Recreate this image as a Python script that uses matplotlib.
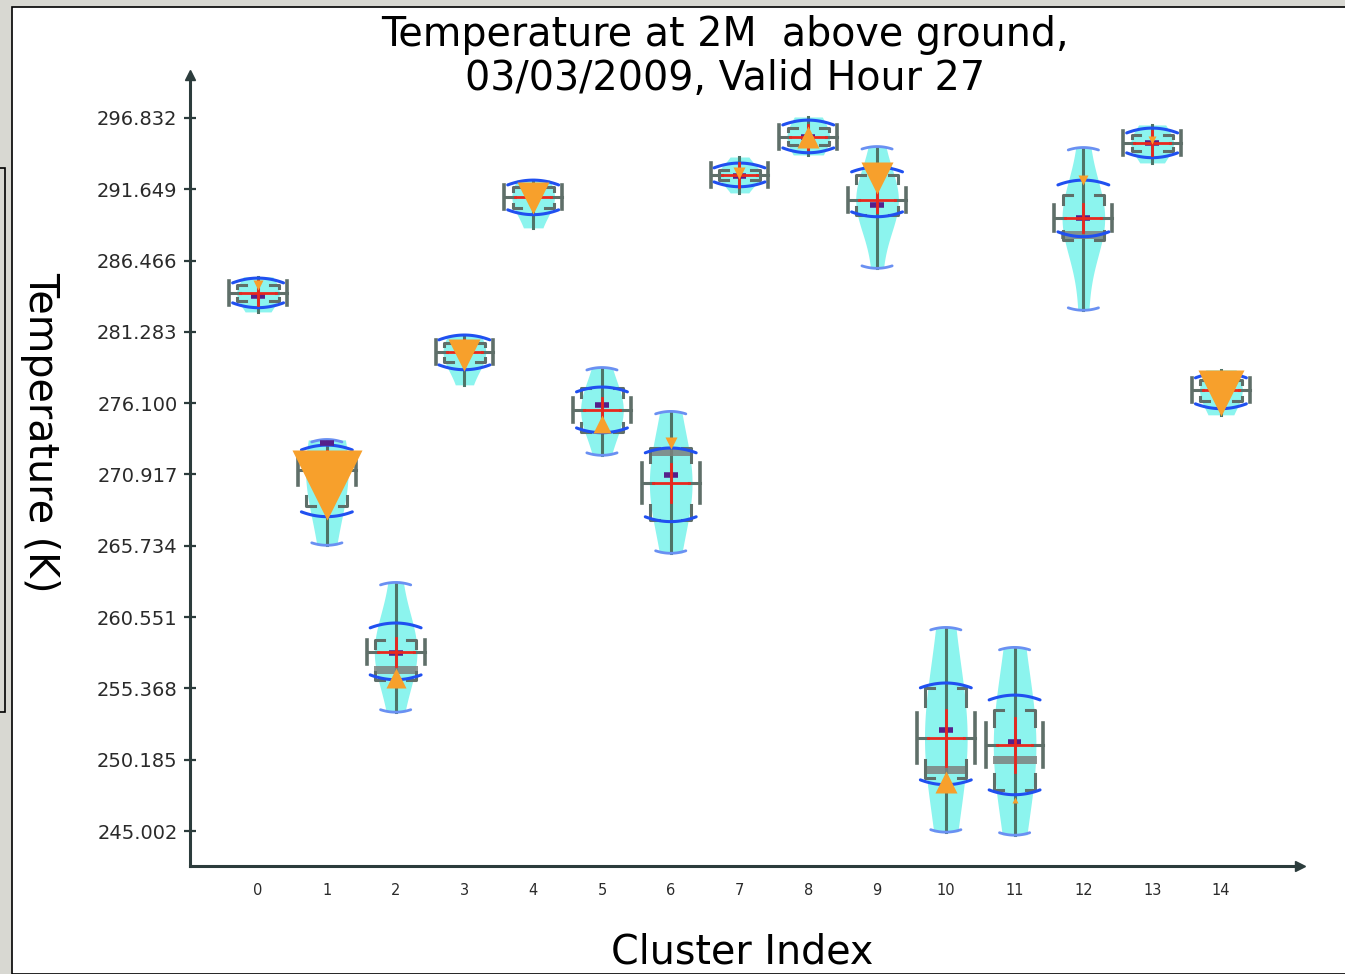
import numpy as np
import matplotlib
matplotlib.use("Agg")
import matplotlib.pyplot as plt
from matplotlib.patches import Rectangle

# ---------------- data ----------------
clusters = list(range(15))
means   = [284.11, 271.25, 258.02, 279.82, 291.09, 275.61, 270.30, 292.69, 295.45, 290.87, 251.77, 251.26, 289.56, 295.01, 277.06]
maxs    = [285.28, 273.43, 263.04, 281.06, 292.33, 278.66, 275.47, 293.99, 296.90, 294.72, 259.77, 258.32, 294.65, 296.32, 278.52]
mins    = [282.73, 265.80, 253.67, 277.43, 288.84, 272.34, 265.22, 291.38, 294.14, 285.93, 244.95, 244.73, 282.88, 293.56, 275.25]
sd_hi   = [284.84, 272.70, 259.77, 280.70, 291.96, 276.92, 272.49, 293.20, 296.32, 292.91, 255.41, 254.53, 291.96, 295.74, 277.94]
sd_lo   = [283.39, 268.20, 256.35, 278.88, 290.15, 274.30, 267.84, 292.18, 294.65, 290.00, 248.72, 247.99, 288.55, 294.29, 276.05]
q3s     = [284.70, 272.40, 258.90, 280.50, 291.80, 277.21, 272.85, 293.05, 296.10, 292.69, 255.41, 253.81, 291.24, 295.60, 277.80]
q1s     = [283.50, 268.60, 255.99, 279.10, 290.30, 274.01, 267.62, 292.30, 294.85, 289.78, 248.87, 247.99, 287.97, 294.40, 276.25]
medians = [283.90, 273.21, 257.95, 279.97, 291.16, 275.97, 270.89, 292.62, 295.45, 290.51, 252.31, 251.50, 289.56, 295.01, 277.06]
tri_pos = [284.70, 270.16, 256.14, 279.61, 291.02, 274.59, 273.21, 292.84, 295.45, 292.47, 248.58, 247.27, 292.33, 295.23, 276.84]
tri_size = [-10, -76, 22, -34, -34, 20, -12, -12, 24, -34, 24, 6, -10, -8, -50]  # +up / -down
band_pos = [None, None, 256.72, None, None, None, 272.56, None, None, None, 249.44, 250.17, 288.33, None, None]
ytick_vals = [245.002, 250.185, 255.368, 260.551, 265.734, 270.917, 276.100,
              281.283, 286.466, 291.649, 296.832]
ytick_labels = ["245.002", "250.185", "255.368", "260.551", "265.734", "270.917",
                "276.100", "281.283", "286.466", "291.649", "296.832"]

title = "Temperature at 2M  above ground,\n03/03/2009, Valid Hour 27"

# ---------------- colours ----------------
C_WHISK = "#4e7468"
C_BRACK = "#5f6f69"
C_BLUE = "#2050f0"
C_LBLUE = "#6a90f2"
C_RED = "#e8281e"
C_PURP = "#55208a"
C_ORANGE = "#f7a02c"
C_CYAN = "#8cf4ee"
C_BAND = "#7d817e"
C_AXIS = "#2c3c3c"

W, H = 1345, 974
fig = plt.figure(figsize=(W / 100, H / 100), dpi=100, facecolor="#d8d8d2")
# white panel
fig.patches.append(Rectangle((12 / W, 0), 1, (H - 7) / H, transform=fig.transFigure,
                             facecolor="white", edgecolor="black", lw=1.2, zorder=-10))
fig.patches.append(Rectangle((-0.01, (H - 712) / H), 0.01 + 5 / W, (712 - 168) / H,
                             transform=fig.transFigure, facecolor="#d8d8d2",
                             edgecolor="black", lw=1.2, zorder=-10))

ax = fig.add_axes([190 / W, (H - 866) / H, 1110 / W, (866 - 75) / H])
ax.set_zorder(5)
ax.set_facecolor("none")
ax.set_xlim(-0.99, 15.15)
ax.set_ylim(242.46, 299.95)

def arc(c, y, half, h, up=True, color=C_BLUE, lw=2.2):
    xs = np.linspace(-half, half, 30)
    ys = y + (h if up else -h) * (1 - (xs / half) ** 2)
    ax.plot(c + xs, ys, color=color, lw=lw, solid_capstyle="round", zorder=5)

for i, c in enumerate(clusters):
    m, hi, lo = means[i], maxs[i], mins[i]
    sh, sl = sd_hi[i], sd_lo[i]
    q3, q1 = q3s[i], q1s[i]
    sd = max((sh - sl) / 2, 0.2)
    # cyan distribution shape
    yy = np.linspace(lo, hi, 80)
    wid = 0.07 + 0.24 * np.exp(-0.5 * ((yy - m) / (1.6 * sd)) ** 2)
    ax.fill_betweenx(yy, c - wid, c + wid, color=C_CYAN, lw=0, zorder=1)
    # whisker
    ax.plot([c, c], [lo, hi], color=C_WHISK, lw=2.2, zorder=2)
    # dark band inside box
    if band_pos[i] is not None:
        ax.add_patch(Rectangle((c - 0.32, band_pos[i] - 0.3), 0.64, 0.6,
                               facecolor=C_BAND, edgecolor="none", alpha=0.85, zorder=2.5))
    # box brackets (corner marks)
    bw, bs = 0.30, 0.13
    bh = (q3 - q1) * 0.2
    for sgn in (-1, 1):
        ax.plot([c + sgn * (bw - bs), c + sgn * bw, c + sgn * bw],
                [q3, q3, q3 - bh], color=C_BRACK, lw=2.2, zorder=3)
        ax.plot([c + sgn * (bw - bs), c + sgn * bw, c + sgn * bw],
                [q1, q1, q1 + bh], color=C_BRACK, lw=2.2, zorder=3)
        # side I-caps
        cap_h = max((q3 - q1) * 0.28, 0.9)
        ax.plot([c + sgn * 0.42, c + sgn * 0.42], [m - cap_h, m + cap_h],
                color=C_BRACK, lw=2.6, zorder=3)
        ax.plot([c + sgn * 0.42, c + sgn * 0.26], [m, m], color=C_BRACK, lw=2.2, zorder=3)
    # blue sd arcs
    arc(c, sh, 0.37, 0.35, up=True, color=C_BLUE)
    arc(c, sl, 0.37, 0.35, up=False, color=C_BLUE)
    # light outer arcs
    if hi - lo > 5:
        arc(c, hi - 0.15, 0.22, 0.18, up=True, color=C_LBLUE, lw=2.0)
        arc(c, lo + 0.15, 0.22, 0.18, up=False, color=C_LBLUE, lw=2.0)
    # median marker
    ax.plot([c - 0.1, c + 0.1], [medians[i], medians[i]], color=C_PURP, lw=4, zorder=6,
            solid_capstyle="butt")
    # red cross (mean)
    ax.plot([c - 0.26, c + 0.26], [m, m], color=C_RED, lw=2.0, zorder=7)
    ax.plot([c, c], [m - max(0.6 * sd, 0.9), m + max(0.6 * sd, 0.9)], color=C_RED, lw=2.0, zorder=7)
    # orange triangle
    s = tri_size[i]
    mk = "^" if s > 0 else "v"
    ax.plot(c, tri_pos[i], marker=mk, ms=abs(s) * 0.72 * 0.92, color=C_ORANGE,
            mec="none", zorder=8)

# axes styling with arrows
for sp in ["top", "right"]:
    ax.spines[sp].set_visible(False)
for sp in ["left", "bottom"]:
    ax.spines[sp].set_color(C_AXIS)
    ax.spines[sp].set_linewidth(2.2)
ax.plot(0, 1, marker="^", ms=7, color=C_AXIS, transform=ax.transAxes, clip_on=False)
ax.plot(1, 0, marker=">", ms=7, color=C_AXIS, transform=ax.transAxes, clip_on=False)

ax.set_yticks(ytick_vals)
ax.set_yticklabels(ytick_labels)
ax.set_xticks(clusters)
ax.set_xticklabels([str(c) for c in clusters])
ax.tick_params(axis="y", direction="inout", length=8, width=1.6, color=C_AXIS,
               labelsize=14, labelcolor="#2a2a2a", pad=5)
ax.tick_params(axis="x", direction="inout", length=0, labelsize=10.5, labelcolor="#2a2a2a", pad=12)

fig.text(725 / W, 1 - 57 / H, title, ha="center", va="center", fontsize=28.5,
         linespacing=1.15, color="black")
fig.text(742 / W, 1 - 952 / H, "Cluster Index", ha="center", va="center", fontsize=28.5)
fig.text(40 / W, 1 - 432 / H, "Temperature (K)", ha="center", va="center", fontsize=28.5,
         rotation=270)

fig.savefig("out.png", dpi=100, facecolor=fig.get_facecolor())
